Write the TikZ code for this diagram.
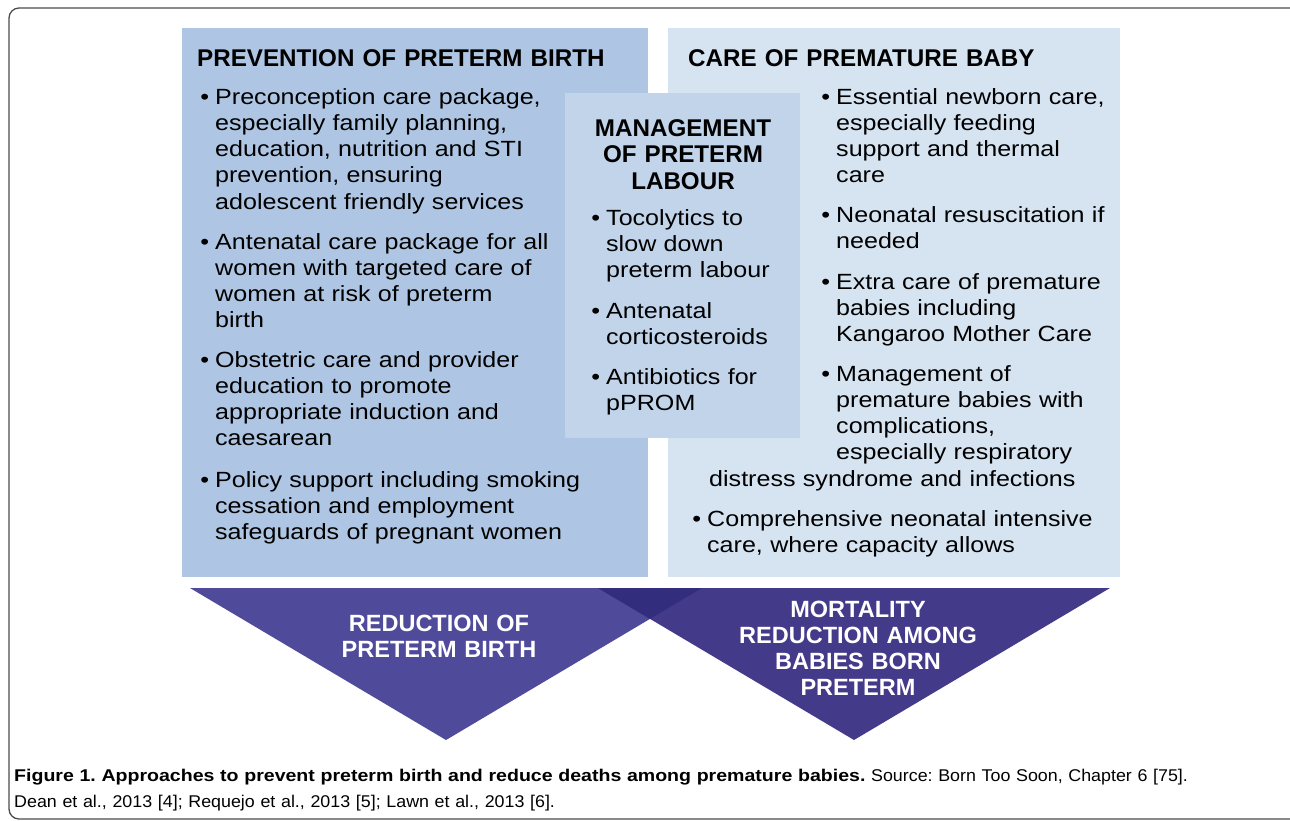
\documentclass[tikz,border=0pt]{standalone}
\usepackage{fontspec}
\setmainfont{Liberation Sans}
\newfontfamily\bodyfont{Liberation Sans}[FakeStretch=1.14]
\newfontfamily\capfont{Liberation Sans}[FakeStretch=1.05, BoldFeatures={FakeStretch=1.15}]
\usepackage{xcolor}
\usetikzlibrary{positioning}
\definecolor{prevblue}{HTML}{AEC6E3}
\definecolor{mgmtblue}{HTML}{C2D4EA}
\definecolor{careblue}{HTML}{D6E4F2}
\definecolor{goalleft}{HTML}{504A9B}
\definecolor{goalright}{HTML}{433A8A}
\definecolor{goalboth}{HTML}{322E7D}
\newcommand\blt{\llap{\textbullet\hspace{6pt}}}
\frenchspacing

\begin{document}
\begin{tikzpicture}[x=1pt, y=-1pt,
    heading/.style = {anchor=base west, inner sep=0pt, text width=440pt, align=left, font=\fontsize{24.2}{26.5}\selectfont\bfseries},
    point/.style = {anchor=base west, inner sep=0pt, text width=420pt, align=left, font=\fontsize{22}{26.3}\bodyfont},
    goal/.style = {anchor=base, inner sep=0pt, text width=300pt, align=center, text=white, font=\fontsize{23.5}{26.3}\selectfont\bfseries}]
    \useasboundingbox (0,0) rectangle (1290,820);
    % frame
    \draw[black!70, line width=1.3pt, rounded corners=10pt] (9,8) rectangle (1320,819);
    % panels
    \fill[prevblue] (182,28) rectangle (648,577);
    \fill[careblue] (668,28) rectangle (1120,577);
    \fill[mgmtblue] (565,93) rectangle (800,438);
    % goals
    \fill[goalleft] (190,588) -- (702,588) -- (446,740) -- cycle;
    \fill[goalright] (598,588) -- (1110,588) -- (854,740) -- cycle;
    \fill[goalboth] (598,588) -- (702,588) -- (650,618.9) -- cycle;

    \node (prev) [heading] at (197,66) {PREVENTION OF PRETERM BIRTH};
    \node (p1) [point] at (215,104) {\blt Preconception care package,\\ especially family planning,\\ education, nutrition and STI\\ prevention, ensuring\\ adolescent friendly services};
    \node (p2) [point] at (215,249) {\blt Antenatal care package for all\\ women with targeted care of\\ women at risk of preterm\\ birth};
    \node (p3) [point] at (215,367) {\blt Obstetric care and provider\\ education to promote\\ appropriate induction and\\ caesarean};
    \node (p4) [point] at (215,487) {\blt Policy support including smoking\\ cessation and employment\\ safeguards of pregnant women};

    \node (mgmt) [heading, anchor=base, text width=230pt, align=center] at (683,136) {MANAGEMENT\\ OF PRETERM\\ LABOUR};
    \node (m1) [point, text width=190pt] at (606,225) {\blt Tocolytics to\\ slow down\\ preterm labour};
    \node (m2) [point, text width=190pt] at (606,318) {\blt Antenatal\\ corticosteroids};
    \node (m3) [point, text width=190pt] at (606,384) {\blt Antibiotics for\\ pPROM};

    \node (care) [heading] at (688,66) {CARE OF PREMATURE BABY};
    \node (c1) [point, text width=280pt] at (836,104) {\blt Essential newborn care,\\ especially feeding\\ support and thermal\\ care};
    \node (c2) [point, text width=280pt] at (836,222) {\blt Neonatal resuscitation if\\ needed};
    \node (c3) [point, text width=280pt] at (836,289) {\blt Extra care of premature\\ babies including\\ Kangaroo Mother Care};
    \node (c4) [point, text width=280pt] at (836,381) {\blt Management of\\ premature babies with\\ complications,\\ especially respiratory\\ \hspace*{-127pt}distress syndrome and infections};
    \node (c5) [point] at (707,526) {\blt Comprehensive neonatal intensive\\ care, where capacity allows};

    \node (fewer) [goal] at (439,631) {REDUCTION OF\\ PRETERM BIRTH};
    \node (survive) [goal] at (858,617) {MORTALITY\\ REDUCTION AMONG\\ BABIES BORN\\ PRETERM};

    \node (caption) [anchor=base west, inner sep=0pt, text width=1260pt, align=left, font=\fontsize{17}{26}\capfont] at (14,781) {\textbf{Figure 1. Approaches to prevent preterm birth and reduce deaths among premature babies.} Source: Born Too Soon, Chapter 6 [75].\\ Dean et al., 2013 [4]; Requejo et al., 2013 [5]; Lawn et al., 2013 [6].};
\end{tikzpicture}
\end{document}
